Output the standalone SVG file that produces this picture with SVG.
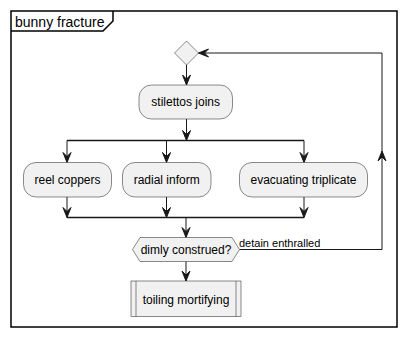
<svg xmlns="http://www.w3.org/2000/svg" width="407" height="338" viewBox="0 0 407 338">
  <style>
    .frame { fill: none; stroke: #000000; stroke-width: 1.5; }
    .node { fill: #F1F1F1; stroke: #181818; stroke-width: 0.5; }
    .edge { fill: none; stroke: #181818; stroke-width: 1; }
    .bar { fill: none; stroke: #181818; stroke-width: 1.5; }
    .head { fill: #181818; stroke: #181818; stroke-width: 1; }
    text { font-family: "Liberation Sans", Arial, sans-serif; fill: #000000; }
    .lbl { font-size: 12px; text-anchor: middle; }
    .elbl { font-size: 11px; }
    .title { font-size: 14px; }
  </style>
  <defs>
    <!-- arrowhead pointing down, tip at origin -->
    <polygon id="ah" points="-4,-10 0,0 4,-10 0,-6"/>
  </defs>

  <!-- enclosing frame with tab -->
  <g id="frame">
    <rect class="frame" x="11" y="11" width="386" height="316"/>
    <path class="frame" d="M11,31 H103 L113,21 V11"/>
    <text class="title" x="15" y="26.5">bunny fracture</text>
  </g>

  <g id="connectors">
    <!-- start diamond to stilettos joins -->
    <line class="edge" x1="186.5" y1="65" x2="186.5" y2="85"/>
    <use href="#ah" class="head" transform="translate(186.5,85)"/>
    <!-- stilettos joins to fork -->
    <line class="edge" x1="186.5" y1="119" x2="186.5" y2="140.5"/>
    <use href="#ah" class="head" transform="translate(186.5,140.5)"/>
    <!-- fork bar -->
    <line class="bar" x1="67" y1="140.5" x2="304" y2="140.5"/>
    <!-- fork to branches -->
    <line class="edge" x1="67" y1="140.5" x2="67" y2="162.5"/>
    <use href="#ah" class="head" transform="translate(67,162.5)"/>
    <line class="edge" x1="166.5" y1="140.5" x2="166.5" y2="162.5"/>
    <use href="#ah" class="head" transform="translate(166.5,162.5)"/>
    <line class="edge" x1="304" y1="140.5" x2="304" y2="162.5"/>
    <use href="#ah" class="head" transform="translate(304,162.5)"/>
    <!-- branches to join -->
    <line class="edge" x1="67" y1="197" x2="67" y2="217.5"/>
    <use href="#ah" class="head" transform="translate(67,217.5)"/>
    <line class="edge" x1="166.5" y1="197" x2="166.5" y2="217.5"/>
    <use href="#ah" class="head" transform="translate(166.5,217.5)"/>
    <line class="edge" x1="304" y1="197" x2="304" y2="217.5"/>
    <use href="#ah" class="head" transform="translate(304,217.5)"/>
    <!-- join bar -->
    <line class="bar" x1="67" y1="217.5" x2="304" y2="217.5"/>
    <!-- join to decision -->
    <line class="edge" x1="186" y1="217.5" x2="186" y2="237.5"/>
    <use href="#ah" class="head" transform="translate(186,237.5)"/>
    <!-- decision to toiling mortifying -->
    <line class="edge" x1="186" y1="261.5" x2="186" y2="281"/>
    <use href="#ah" class="head" transform="translate(186,281)"/>
    <!-- loop back -->
    <polyline class="edge" points="239.5,249.5 382,249.5 382,53 198.5,53"/>
    <use href="#ah" class="head" transform="translate(382,151) rotate(180)"/>
    <use href="#ah" class="head" transform="translate(198.5,53) rotate(90)"/>
    <text class="elbl" x="239" y="246.5">detain enthralled</text>
  </g>

  <g id="start">
    <polygon class="node" points="186.5,41 198.5,53 186.5,65 174.5,53"/>
  </g>

  <g id="stilettos-joins">
    <rect class="node" x="139" y="85" width="93.5" height="34" rx="12.5" ry="12.5"/>
    <text class="lbl" x="185.7" y="106.3">stilettos joins</text>
  </g>

  <g id="reel-coppers">
    <rect class="node" x="23.5" y="162.5" width="88" height="34.5" rx="12.5" ry="12.5"/>
    <text class="lbl" x="67.5" y="184">reel coppers</text>
  </g>

  <g id="radial-inform">
    <rect class="node" x="122.5" y="162.5" width="88.5" height="34.5" rx="12.5" ry="12.5"/>
    <text class="lbl" x="166.7" y="184">radial inform</text>
  </g>

  <g id="evacuating-triplicate">
    <rect class="node" x="239.5" y="162.5" width="128" height="34.5" rx="12.5" ry="12.5"/>
    <text class="lbl" x="303.5" y="184">evacuating triplicate</text>
  </g>

  <g id="dimly-construed">
    <polygon class="node" points="132.5,249.5 140,237.5 232,237.5 239.5,249.5 232,261.5 140,261.5"/>
    <text class="lbl" x="186" y="253.8">dimly construed?</text>
  </g>

  <g id="toiling-mortifying">
    <rect class="node" x="131" y="281" width="110" height="35.5"/>
    <line class="node" x1="136" y1="281" x2="136" y2="316.5"/>
    <line class="node" x1="236" y1="281" x2="236" y2="316.5"/>
    <text class="lbl" x="186" y="303.5">toiling mortifying</text>
  </g>
</svg>
